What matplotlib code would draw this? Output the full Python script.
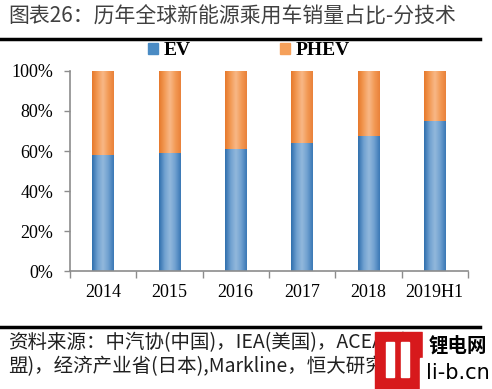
import matplotlib.pyplot as plt
import numpy as np
from matplotlib.colors import LinearSegmentedColormap
from matplotlib.patches import Rectangle
from matplotlib.lines import Line2D

# 数据
years = ['2014', '2015', '2016', '2017', '2018', '2019H1']
ev_share = [58, 59, 61, 64, 67.5, 75]
phev_share = [100 - v for v in ev_share]

title = '图表26：历年全球新能源乘用车销量占比-分技术'
source_1 = '资料来源：中汽协(中国)，IEA(美国)，ACEA(欧'
source_2 = '盟)，经济产业省(日本),Markline，恒大研究院'

cjk = ['Noto Sans CJK SC', 'DejaVu Sans']
serif = 'Liberation Serif'

blue_cmap = LinearSegmentedColormap.from_list('b', ['#2f6fad', '#6fa0d0', '#93b9dc', '#6fa0d0', '#3a78b5'])
orange_cmap = LinearSegmentedColormap.from_list('o', ['#e6792c', '#f39a55', '#f8b888', '#f39a55', '#e9813a'])


def shade(ax, bars, cmap):
    # 柱子横向渐变
    grad = np.linspace(0, 1, 64).reshape(1, -1)
    for p in bars:
        x0, y0 = p.get_x(), p.get_y()
        w, h = p.get_width(), p.get_height()
        im = ax.imshow(grad, extent=(x0, x0 + w, y0, y0 + h), aspect='auto',
                       cmap=cmap, zorder=2, interpolation='bicubic')
        im.set_clip_path(p)
        p.set_facecolor('none')


def main():
    fig = plt.figure(figsize=(4.92, 3.89), dpi=100)
    ax = fig.add_axes([0.142, 0.3033, 0.809, 0.5142])

    x = np.arange(len(years))
    b1 = ax.bar(x, ev_share, width=0.32, color='#4a8bc4', label='EV', zorder=2, linewidth=0)
    b2 = ax.bar(x, phev_share, width=0.32, bottom=ev_share, color='#f5a05a', label='PHEV',
                zorder=2, linewidth=0)
    shade(ax, b1, blue_cmap)
    shade(ax, b2, orange_cmap)

    ax.set_xlim(-0.5, len(years) - 0.5)
    ax.set_ylim(0, 100)
    ax.set_yticks(range(0, 101, 20))
    ax.set_yticklabels([f'{v}%' for v in range(0, 101, 20)], fontfamily=serif, fontsize=13)
    ax.set_xticks(x)
    ax.set_xticklabels(years, fontfamily=serif, fontsize=13)
    ax.set_xticks(np.arange(-0.5, len(years)), minor=True)
    ax.tick_params(axis='x', which='major', length=0, pad=9)
    ax.tick_params(axis='x', which='minor', length=5, color='#8c8c8c', width=1)
    ax.tick_params(axis='y', length=4, color='#8c8c8c', width=1, pad=8)

    for s in ['top', 'right']:
        ax.spines[s].set_visible(False)
    for s in ['left', 'bottom']:
        ax.spines[s].set_color('#8c8c8c')
        ax.spines[s].set_linewidth(1.2)

    handles = [Rectangle((0, 0), 1, 1, color='#4a8bc4'), Rectangle((0, 0), 1, 1, color='#f5a05a')]
    ax.legend(handles, ['EV', 'PHEV'], loc='center', bbox_to_anchor=(0.45, 1.1), ncol=2,
              frameon=False, handlelength=0.5, handleheight=0.5, handletextpad=0.3,
              columnspacing=4.6, borderaxespad=0, borderpad=0,
              prop={'family': serif, 'weight': 'bold', 'size': 14})

    # 标题和来源
    fig.text(0.016, 0.956, title, fontsize=15, family=cjk, color='#404040', va='center')
    fig.add_artist(Line2D([0, 0.976], [0.9, 0.9], color='black', lw=2.5))
    fig.add_artist(Line2D([0, 0.976], [0.16, 0.16], color='black', lw=2.5))
    fig.text(0.016, 0.118, source_1, fontsize=14, family=cjk, style='italic', va='center',
             color='#202020')
    fig.text(0.016, 0.057, source_2, fontsize=14, family=cjk, style='italic', va='center',
             color='#202020')

    # 水印
    fig.add_artist(Rectangle((0.762, 0.0), 0.096, 0.147, color='#d7191c', zorder=5))
    fig.add_artist(Rectangle((0.785, 0.03), 0.016, 0.09, color='white', zorder=6))
    fig.add_artist(Rectangle((0.815, 0.03), 0.016, 0.09, color='white', zorder=6))
    fig.text(0.93, 0.11, '锂电网', fontsize=14, family=cjk, weight='bold', ha='center', va='center',
             zorder=6, backgroundcolor='white')
    fig.text(0.93, 0.04, 'li-b.cn', fontsize=15, family='DejaVu Sans', ha='center', va='center',
             zorder=6, backgroundcolor='white')

    plt.savefig('out.png', dpi=100)


if __name__ == '__main__':
    main()
